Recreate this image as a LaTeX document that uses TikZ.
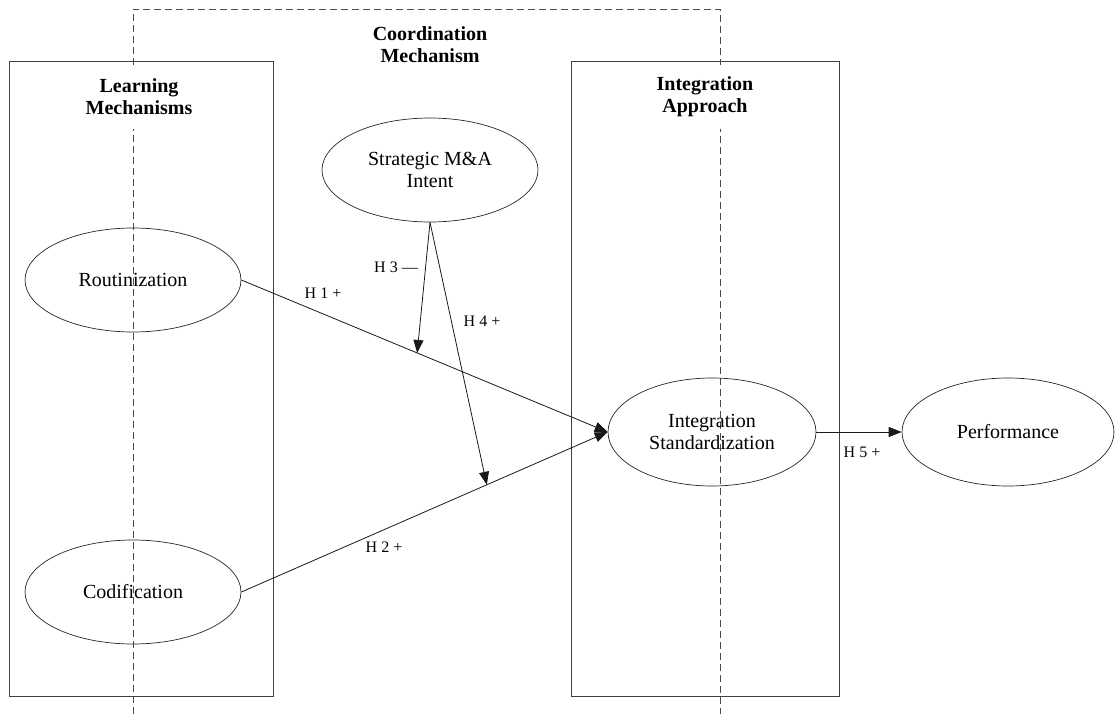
\documentclass[tikz,border=0pt]{standalone}
\usepackage{fontspec}
\setmainfont{Liberation Serif}
\usetikzlibrary{shapes.geometric,arrows.meta}

\begin{document}
\begin{tikzpicture}
	[
		x=1pt, y=-1pt,
		construct/.style = {shape=ellipse, draw=black!85, line width=0.7pt, minimum width=216pt, minimum height=104pt, inner sep=0pt, align=center, font=\fontsize{20}{22}\selectfont},
		panel/.style = {draw=black!75, line width=1pt},
		heading/.style = {fill=white, align=center, inner sep=2pt, minimum height=64pt, font=\fontsize{20}{22}\selectfont\bfseries},
		hyp/.style = {inner sep=0pt, font=\fontsize{16}{18}\selectfont},
		link/.style = {draw=black!90, line width=0.8pt, -{Triangle[length=13pt,width=10pt]}}
	]
	
	\useasboundingbox (0,0) rectangle (1116,714);
	
	% coordination mechanism (dashed)
	\draw [black!70, line width=0.8pt, dash pattern=on 7pt off 4pt] (133,714) -- (133,9) -- (720,9) -- (720,714);
	\node [heading, fill=none] (coord) at (430,45) {Coordination\\Mechanism};
	
	% learning mechanisms
	\draw [panel] (9,62) rectangle (273,696);
	\node [heading] (learn) at (139,97) {Learning\\Mechanisms};
	
	% integration approach
	\draw [panel] (571,62) rectangle (839,696);
	\node [heading] (approach) at (705,97) {Integration\\Approach};
	
	\node [construct] (rout) at (133,280) {Routinization};
	\node [construct] (codif) at (133,592) {Codification};
	\node [construct] (intent) at (430,170) {Strategic M\&A\\Intent};
	\node [construct, minimum width=208pt, minimum height=108pt] (stand) at (712,432) {Integration\\Standardization};
	\node [construct, minimum width=212pt, minimum height=108pt] (perf) at (1008,432) {Performance};
	
	\draw [link] (rout.east) -- coordinate [pos=0.48] (m1) (stand.west);
	\draw [link] (codif.east) -- coordinate [pos=0.67] (m2) (stand.west);
	\draw [link] (intent.south) -- (m1);
	\draw [link] (intent.south) -- (m2);
	\draw [link] (stand.east) -- (perf.west);
	
	\node [hyp] (h1) at (323,293) {H 1 +};
	\node [hyp] (h2) at (384,547) {H 2 +};
	\node [hyp] (h3) at (396,267) {H 3 \textemdash};
	\node [hyp] (h4) at (482,321) {H 4 +};
	\node [hyp] (h5) at (862,452) {H 5 +};
	
\end{tikzpicture}
\end{document}
